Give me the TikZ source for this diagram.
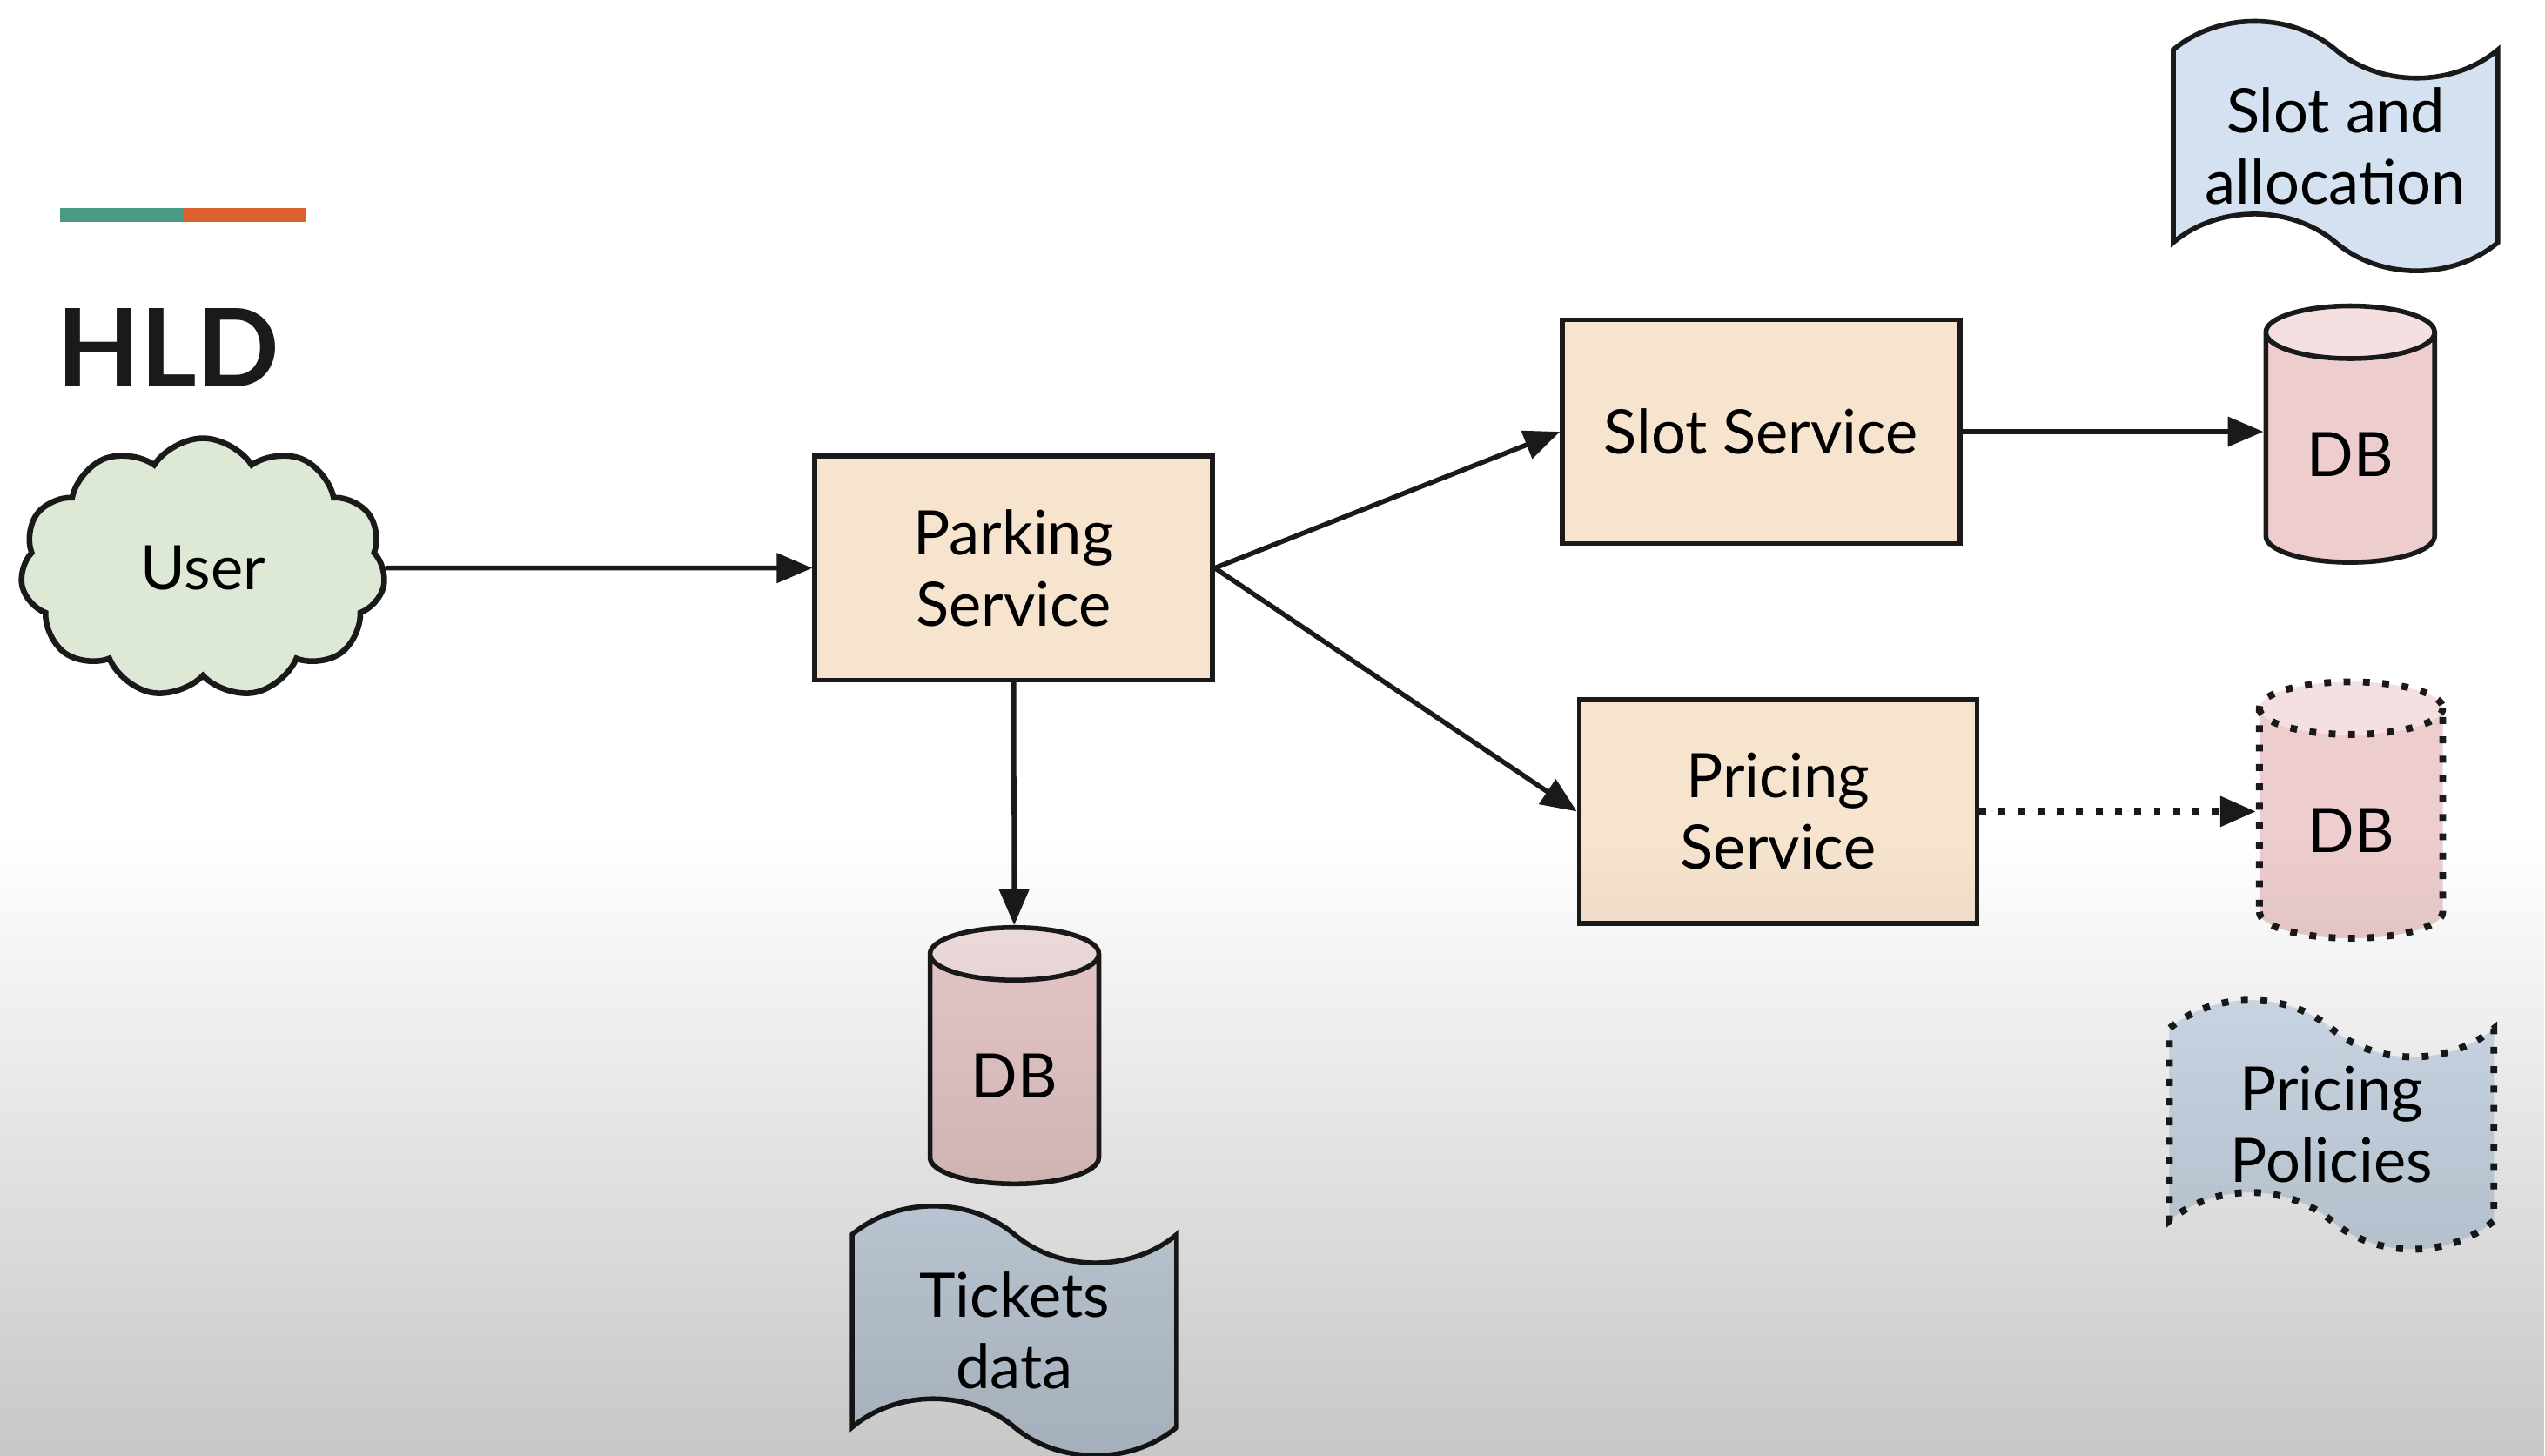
\documentclass[tikz,border=0pt]{standalone}
\usepackage{fontspec}
\setmainfont{Lato}
\usetikzlibrary{shapes.geometric,shapes.symbols,arrows.meta,fadings}

\definecolor{boxfill}{HTML}{F7E4CF}
\definecolor{cloudfill}{HTML}{DDE8D5}
\definecolor{dbbody}{HTML}{EDCDCD}
\definecolor{dbtop}{HTML}{F4E0E0}
\definecolor{tapefill}{HTML}{D4E1F0}
\definecolor{accentteal}{HTML}{4A9A88}
\definecolor{accentorange}{HTML}{DB612C}
\definecolor{ink}{HTML}{1A1A1A}

\newcommand{\labelfont}{\fontsize{21.5}{25}\selectfont}

\tikzset{
  service/.style={draw=ink, line width=1.7pt, fill=boxfill, minimum width=4.9cm,
    minimum height=2.76cm, align=center, font=\labelfont},
  dbcyl/.style={cylinder, shape border rotate=90, draw=ink, line width=1.7pt, aspect=0.5,
    cylinder uses custom fill, cylinder body fill=dbbody, cylinder end fill=dbtop,
    minimum width=2.08cm, minimum height=3.16cm, anchor=north, font=\labelfont},
  store/.style={tape, draw=ink, line width=1.7pt, fill=tapefill, tape bend height=0.7cm,
    tape bend top=out and in, tape bend bottom=out and in,
    minimum width=4cm, minimum height=2.9cm, align=center, font=\labelfont},
  dotline/.style={line width=2.4pt, line cap=butt, dash pattern=on 2.4pt off 4.4pt},
  link/.style={draw=ink, line width=1.7pt, ->},
}

\begin{document}
\begin{tikzpicture}[x=0.02cm, y=-0.02cm, >={Triangle[length=0.44cm,width=0.36cm]}]
      \useasboundingbox (0,0) rectangle (1568,897);
      %\draw[help lines] (0,0) grid (1568,897);

      \fill[white] (0,0) rectangle (1568,897);

      \fill[accentteal]   (37,128) rectangle (113,137);
      \fill[accentorange] (113,128) rectangle (188,137);
      \node[anchor=west, inner sep=0pt, font=\fontsize{38}{38}\selectfont\bfseries, text=ink] (title) at (35,214) {HLD};

      \node[cloud, cloud puffs=11, cloud puff arc=115, aspect=1.4, draw=ink, line width=2pt,
        fill=cloudfill, minimum width=4.5cm, minimum height=3.2cm, font=\labelfont] (user) at (125,350) {User};

      \node[service] (parking) at (624.5,350) {Parking\\Service};
      \node[service] (slot)    at (1085,266)  {Slot Service};
      \node[service] (pricing) at (1095.5,500) {Pricing\\Service};

      \node[dbcyl] (slotdb)    at (1448,187) {DB};
      \node[dbcyl, dotline, minimum width=2.26cm] (pricingdb) at (1448.5,418) {DB};
      \node[dbcyl] (ticketdb)  at (625,570) {DB};

      \node[store] (slotdata)    at (1439,90)    {Slot and\\allocation};
      \node[store] (ticketdata)  at (625,820)    {Tickets\\data};
      \node[store, dotline] (pricingdata) at (1436.5,693) {Pricing\\Policies};

      \draw[link] (user) -- (parking);
      \draw[link] (parking.east) -- (slot.west);
      \draw[link] (parking.east) -- (pricing.west);
      \draw[link] (slot.east) -- (slot.east -| slotdb.west);
      \draw[link, dotline] (pricing.east) -- (pricing.east -| pricingdb.west);
      \draw[link] (parking) -- (ticketdb);

      % grey wash over the lower part
      \fill[black, fill opacity=0.22, path fading=north] (0,515) rectangle (1568,897);
\end{tikzpicture}
\end{document}
